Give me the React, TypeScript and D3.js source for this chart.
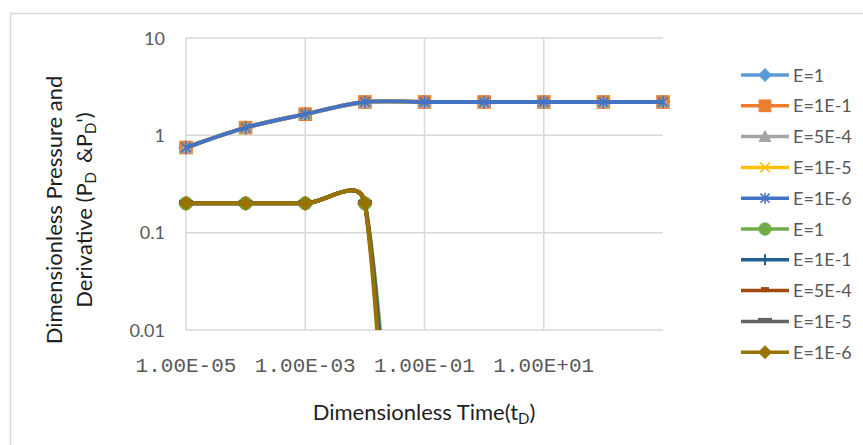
import React, { useEffect } from "react";
import * as d3 from "d3";

const categories = [1e-5, 1e-4, 1e-3, 1e-2, 1e-1, 1, 10, 100, 1000];
const xTickValues = [1e-5, 1e-3, 1e-1, 10];
const xTickLabels = ["1.00E-05", "1.00E-03", "1.00E-01", "1.00E+01"];
const yTickValues = [0.01, 0.1, 1, 10];
const yTickLabels = ["0.01", "0.1", "1", "10"];

const seriesNames = ["E=1", "E=1E-1", "E=5E-4", "E=1E-5", "E=1E-6", "E=1", "E=1E-1", "E=5E-4", "E=1E-5", "E=1E-6"];
const seriesColors = ["#5B9BD5", "#ED7D31", "#A5A5A5", "#FFC000", "#4472C4", "#70AD47", "#255E91", "#9E480E", "#636363", "#997300"];
const seriesMarkers = ["diamond", "square", "triangle", "x", "asterisk", "circle", "plus", "dash", "longdash", "diamond"];

// Dimensionless pressure
const pdE1 = [0.75, 1.2, 1.65, 2.2, 2.2, 2.2, 2.2, 2.2, 2.2];
const pdE1em1 = [0.75, 1.2, 1.65, 2.2, 2.2, 2.2, 2.2, 2.2, 2.2];
const pdE5em4 = [0.75, 1.2, 1.65, 2.18, 2.2, 2.2, 2.2, 2.2, 2.2];
const pdE1em5 = [0.75, 1.2, 1.65, 2.2, 2.2, 2.2, 2.2, 2.2, 2.2];
const pdE1em6 = [0.75, 1.2, 1.65, 2.2, 2.2, 2.2, 2.2, 2.2, 2.2];
// Dimensionless derivative
const dpdE1 = [0.2, 0.2, 0.2, 0.2, 1e-7, 1e-7, 1e-7, 1e-7, 1e-7];
const dpdE1em1 = [0.2, 0.2, 0.2, 0.2, 3e-8, 3e-8, 3e-8, 3e-8, 3e-8];
const dpdE5em4 = [0.2, 0.2, 0.2, 0.2, 1e-8, 1e-8, 1e-8, 1e-8, 1e-8];
const dpdE1em5 = [0.2, 0.2, 0.2, 0.2, 5e-9, 5e-9, 5e-9, 5e-9, 5e-9];
const dpdE1em6 = [0.2, 0.2, 0.2, 0.2, 1e-9, 1e-9, 1e-9, 1e-9, 1e-9];

const seriesValues = [pdE1, pdE1em1, pdE5em4, pdE1em5, pdE1em6, dpdE1, dpdE1em1, dpdE5em4, dpdE1em5, dpdE1em6];

const W = 863;
const H = 445;
const P = { left: 186, right: 663, top: 38, bottom: 330 };

const x = d3.scaleLog().domain([1e-5, 1e3]).range([P.left, P.right]);
const y = d3.scaleLog().domain([0.01, 10]).range([P.bottom, P.top]);

const SANS = "Lato, 'Open Sans', sans-serif";

// Spreadsheet-style smoothed line (Bezier with limited control arms)
class ExcelSmooth {
  _context: any;
  _pts: [number, number][] = [];
  constructor(context: any) {
    this._context = context;
  }
  areaStart() {}
  areaEnd() {}
  lineStart() {
    this._pts = [];
  }
  point(px: number, py: number) {
    this._pts.push([+px, +py]);
  }
  lineEnd() {
    const p = this._pts;
    const c = this._context;
    const n = p.length;
    if (!n) return;
    c.moveTo(p[0][0], p[0][1]);
    const dist = (a: number[], b: number[]) => Math.hypot(a[0] - b[0], a[1] - b[1]);
    for (let i = 0; i < n - 1; i++) {
      const p0 = p[Math.max(0, i - 1)];
      const p1 = p[i];
      const p2 = p[i + 1];
      const p3 = p[Math.min(n - 1, i + 2)];
      const d12 = dist(p1, p2);
      const d02 = dist(p0, p2);
      const d13 = dist(p1, p3);
      let f1 = 1 / 6;
      let f2 = 1 / 6;
      if (d02 / 6 >= d12 / 2 && d02 > 0) f1 = d12 / (2 * d02);
      if (d13 / 6 >= d12 / 2 && d13 > 0) f2 = d12 / (2 * d13);
      c.bezierCurveTo(
        p1[0] + f1 * (p2[0] - p0[0]),
        p1[1] + f1 * (p2[1] - p0[1]),
        p2[0] - f2 * (p3[0] - p1[0]),
        p2[1] - f2 * (p3[1] - p1[1]),
        p2[0],
        p2[1]
      );
    }
  }
}
const curveExcel = (context: any) => new ExcelSmooth(context);

function Marker({ type, color, cx, cy, s }: { type: string; color: string; cx: number; cy: number; s: number }) {
  const r = s / 2;
  const t = `translate(${cx},${cy})`;
  switch (type) {
    case "diamond":
      return <path transform={t} d={`M0,${-r}L${r},0L0,${r}L${-r},0Z`} fill={color} stroke={color} strokeWidth={1} />;
    case "square":
      return <rect x={cx - r * 0.9} y={cy - r * 0.9} width={r * 1.8} height={r * 1.8} fill={color} stroke={color} strokeWidth={1} />;
    case "triangle":
      return <path transform={t} d={`M0,${-r * 0.9}L${r * 0.9},${r * 0.75}L${-r * 0.9},${r * 0.75}Z`} fill={color} stroke={color} strokeWidth={1} />;
    case "x":
      return <path transform={t} d={`M${-r * 0.75},${-r * 0.75}L${r * 0.75},${r * 0.75}M${-r * 0.75},${r * 0.75}L${r * 0.75},${-r * 0.75}`} stroke={color} strokeWidth={1.5} fill="none" />;
    case "asterisk":
      return <path transform={t} d={`M${-r * 0.7},${-r * 0.7}L${r * 0.7},${r * 0.7}M${-r * 0.7},${r * 0.7}L${r * 0.7},${-r * 0.7}M0,${-r * 0.85}L0,${r * 0.85}`} stroke={color} strokeWidth={1.6} fill="none" />;
    case "circle":
      return <circle cx={cx} cy={cy} r={r * 0.95} fill={color} stroke={color} strokeWidth={1} />;
    case "plus":
      return <path transform={t} d={`M0,${-r * 0.85}L0,${r * 0.85}M${-r * 0.85},0L${r * 0.85},0`} stroke={color} strokeWidth={2} fill="none" />;
    case "dash":
      return <rect x={cx - 4} y={cy - 3.5} width={8} height={5} fill={color} />;
    case "longdash":
      return <rect x={cx - 7} y={cy - 3.5} width={14} height={5} fill={color} />;
    default:
      return null;
  }
}

export default function App() {
  useEffect(() => {
    document.body.style.margin = "0";
  }, []);

  const line = d3
    .line<number>()
    .x((_, i) => x(categories[i]))
    .y((d) => y(d))
    .curve(curveExcel as any);

  const legendX0 = 741;
  const legendX1 = 789;
  const legendY0 = 75;
  const legendStep = 30.8;

  return (
    <svg width={W} height={H} style={{ display: "block", background: "#fff" }}>
      <defs>
        <clipPath id="plotclip">
          <rect x={0} y={P.top - 5} width={W} height={P.bottom - P.top + 5} />
        </clipPath>
      </defs>
      {/* chart frame */}
      <path d={`M10.5,${H + 5}L10.5,13.5L${W + 5},13.5`} fill="none" stroke="#d9d9d9" strokeWidth={1.5} />

      {/* gridlines */}
      {yTickValues.map((v) => (
        <line key={"gy" + v} x1={P.left} x2={P.right} y1={y(v)} y2={y(v)} stroke="#d9d9d9" strokeWidth={1.5} />
      ))}
      {xTickValues.map((v) => (
        <line key={"gx" + v} x1={x(v)} x2={x(v)} y1={P.top} y2={P.bottom} stroke="#d9d9d9" strokeWidth={1.5} />
      ))}

      {/* y tick labels */}
      {yTickValues.map((v, i) => (
        <text key={"ty" + v} x={165} y={y(v) + 6.5} textAnchor="end" fontFamily={SANS} fontSize={18} fill="#595959">
          {yTickLabels[i]}
        </text>
      ))}
      {/* x tick labels */}
      {xTickValues.map((v, i) => (
        <text key={"tx" + v} x={x(v)} y={372} textAnchor="middle" fontFamily="'Liberation Mono', monospace" fontSize={21} fill="#595959">
          {xTickLabels[i]}
        </text>
      ))}

      {/* axis titles */}
      <text x={424} y={420} textAnchor="middle" fontFamily={SANS} fontSize={22} fill="#1f1f1f">
        Dimensionless Time(t<tspan dy={4} fontSize={15}>D</tspan>
        <tspan dy={-4}>)</tspan>
      </text>
      <text transform="translate(62,210) rotate(-90)" textAnchor="middle" fontFamily={SANS} fontSize={22} fill="#1f1f1f">
        Dimensionless Pressure and
      </text>
      <text transform="translate(92,210) rotate(-90)" textAnchor="middle" fontFamily={SANS} fontSize={22} fill="#1f1f1f">
        Derivative (P<tspan dy={4} fontSize={15}>D</tspan>
        <tspan dy={-4} dx={9}>&amp;P</tspan>
        <tspan dy={4} fontSize={15}>D</tspan>
        <tspan dy={-4}>')</tspan>
      </text>

      {/* series */}
      {seriesValues.map((vals, si) => (
        <g key={"s" + si}>
          <path d={line(vals) || ""} fill="none" stroke={seriesColors[si]} strokeWidth={4} clipPath="url(#plotclip)" strokeLinejoin="round" />
          {vals.map((v, i) =>
            v >= 0.01 && v <= 10 ? (
              <Marker key={i} type={seriesMarkers[si]} color={seriesColors[si]} cx={x(categories[i])} cy={y(v)} s={14} />
            ) : null
          )}
        </g>
      ))}

      {/* legend */}
      {seriesNames.map((name, i) => {
        const ly = legendY0 + i * legendStep;
        return (
          <g key={"lg" + i}>
            <line x1={legendX0} x2={legendX1} y1={ly} y2={ly} stroke={seriesColors[i]} strokeWidth={3.5} />
            <Marker type={seriesMarkers[i]} color={seriesColors[i]} cx={(legendX0 + legendX1) / 2} cy={ly} s={13} />
            <text x={793} y={ly + 6.5} fontFamily={SANS} fontSize={18} fill="#595959">
              {name}
            </text>
          </g>
        );
      })}
    </svg>
  );
}
